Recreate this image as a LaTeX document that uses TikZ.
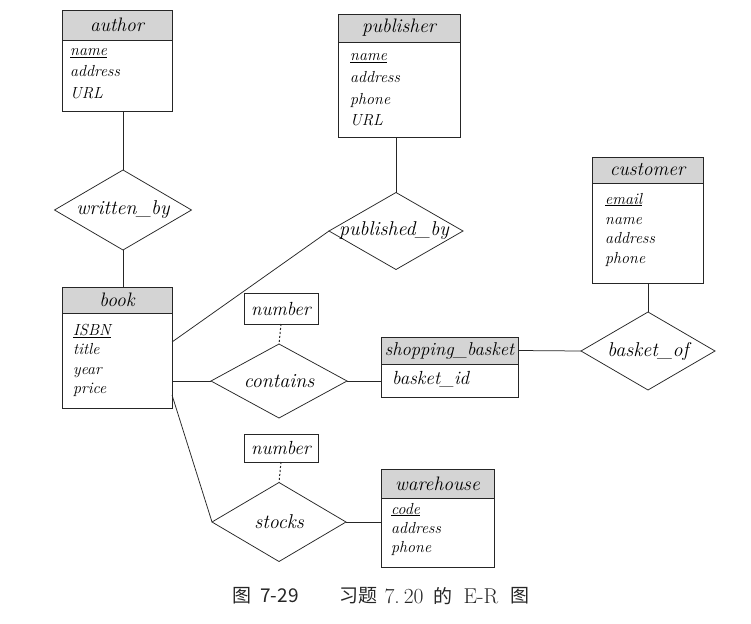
\documentclass[tikz,border=0pt]{standalone}
\usepackage{fontspec}
\newfontfamily\cjk{Noto Sans CJK SC}
\usetikzlibrary{shapes.geometric,calc}
\begin{document}
\begin{tikzpicture}[x=1pt,y=-1pt,
  ln/.style={line width=0.75pt, draw=black!85},
  hdr/.style={draw=black!85, line width=0.75pt, fill=black!17, anchor=north west, inner sep=0pt, outer sep=0pt, font=\fontsize{19.5}{21}\selectfont\itshape, text=black},
  bodybox/.style={draw=black!85, line width=0.75pt, anchor=north west, inner sep=0pt, outer sep=0pt},
  attr/.style={anchor=base west, inner sep=0pt, font=\fontsize{16}{18}\selectfont\itshape, text=black},
  bigattr/.style={anchor=base west, inner sep=0pt, font=\fontsize{19}{20}\selectfont\itshape, text=black},
  rel/.style={diamond, draw=black!85, line width=0.75pt, inner sep=0pt, outer sep=0pt},
  lbl/.style={inner sep=0pt, font=\fontsize{20}{22}\selectfont\itshape, text=black},
  numbox/.style={draw=black!85, line width=0.75pt, inner sep=0pt, outer sep=0pt, font=\fontsize{19}{20}\selectfont\itshape, text=black},
  dotl/.style={line width=1pt, draw=black!85, dash pattern=on 2pt off 2pt},
  captext/.style={inner sep=0pt, font=\fontsize{19}{21}\selectfont, text=black!85},
  caplat/.style={inner sep=0pt, font=\fontsize{21.5}{23}\selectfont, text=black!85}
]
\path[use as bounding box, fill=white] (0,0) rectangle (751,623);

% author
\node[hdr, minimum width=110pt, minimum height=30pt] (authH) at (62,10) {author};
\node[bodybox, minimum width=110pt, minimum height=71pt] (authB) at (62,40) {};
\node[attr] (a1) at (70,55.5) {\underline{name}};
\node[attr] (a2) at (70,77) {address};
\node[attr] (a3) at (70,98.5) {URL};

% book
\node[hdr, minimum width=110pt, minimum height=26pt] (bookH) at (62,287) {book};
\node[bodybox, minimum width=110pt, minimum height=95pt] (bookB) at (62,313) {};
\node[attr] (b1) at (73,335) {\underline{ISBN}};
\node[attr] (b2) at (73,354.5) {title};
\node[attr] (b3) at (73,374) {year};
\node[attr] (b4) at (73,393) {price};

% publisher
\node[hdr, minimum width=122pt, minimum height=28pt] (pubH) at (338,14) {publisher};
\node[bodybox, minimum width=122pt, minimum height=95pt] (pubB) at (338,42) {};
\node[attr] (p1) at (350,61) {\underline{name}};
\node[attr] (p2) at (350,82.5) {address};
\node[attr] (p3) at (350,104) {phone};
\node[attr] (p4) at (350,125.5) {URL};

% customer
\node[hdr, minimum width=111pt, minimum height=26pt] (custH) at (592,157) {customer};
\node[bodybox, minimum width=111pt, minimum height=100pt] (custB) at (592,183) {};
\node[attr] (c1) at (605,204) {\underline{email}};
\node[attr] (c2) at (605,224) {name};
\node[attr] (c3) at (605,243.5) {address};
\node[attr] (c4) at (605,263) {phone};

% shopping basket
\node[hdr, minimum width=137pt, minimum height=27pt, font=\fontsize{18.6}{20}\selectfont\itshape] (sbH) at (381,337) {shopping\_basket};
\node[bodybox, minimum width=137pt, minimum height=33pt] (sbB) at (381,364) {};
\node[bigattr] (s1) at (392,384) {basket\_id};

% warehouse
\node[hdr, minimum width=113pt, minimum height=29pt] (whH) at (381,469) {warehouse};
\node[bodybox, minimum width=113pt, minimum height=69pt] (whB) at (381,498) {};
\node[attr] (w1) at (391,514) {\underline{code}};
\node[attr] (w2) at (391,533) {address};
\node[attr] (w3) at (391,552) {phone};

% relationships
\node[rel, minimum width=137pt, minimum height=80pt] (wb) at (123,210) {};
\node[lbl] (wbL) at (123,210) {written\_by};
\node[rel, minimum width=134pt, minimum height=77pt] (pb) at (396,231) {};
\node[lbl] (pbL) at (394,231) {published\_by};
\node[rel, minimum width=134pt, minimum height=78pt] (bo) at (648,351) {};
\node[lbl] (boL) at (648,351) {basket\_of};
\node[rel, minimum width=136pt, minimum height=74pt] (con) at (279,381) {};
\node[lbl] (conL) at (279,381) {contains};
\node[rel, minimum width=134pt, minimum height=79pt] (st) at (279,522) {};
\node[lbl] (stL) at (279,522) {stocks};

% number boxes
\node[numbox, minimum width=74pt, minimum height=31pt] (n1) at (281,308.5) {number};
\node[numbox, minimum width=74pt, minimum height=28pt] (n2) at (281,448) {number};

% connectors
\draw[ln] (wb.north) -- (wb.north |- authB.south);
\draw[ln] (wb.south) -- (wb.south |- bookH.north);
\draw[ln] (pb.north) -- (pb.north |- pubB.south);
\draw[ln] ($(bookB.north east)+(0,29)$) -- (pb.west);
\draw[ln] (con.west) -- (con.west -| bookB.east);
\draw[ln] ($(bookB.south east)+(0,-13)$) -- (st.west);
\draw[ln] (con.east) -- (con.east -| sbB.west);
\draw[ln] (sbH.east) -- (bo.west);
\draw[ln] (bo.north) -- (bo.north |- custB.south);
\draw[ln] (st.east) -- (st.east -| whB.west);
\draw[dotl] (n1.south) -- (con.north);
\draw[dotl] (n2.south) -- (st.north);

% caption
\node[captext] (cap1) at (242,596) {\cjk 图};
\node[captext] (cap2) at (279.5,596) {\cjk 7-29};
\node[captext] (cap3) at (358.5,596) {\cjk 习题};
\node[caplat] (cap4) at (404,596) {7.\hspace{4pt}20};
\node[captext] (cap5) at (442.5,596) {\cjk 的};
\node[caplat] (cap6) at (481,596) {E-R};
\node[captext] (cap7) at (520,596) {\cjk 图};
\end{tikzpicture}
\end{document}
